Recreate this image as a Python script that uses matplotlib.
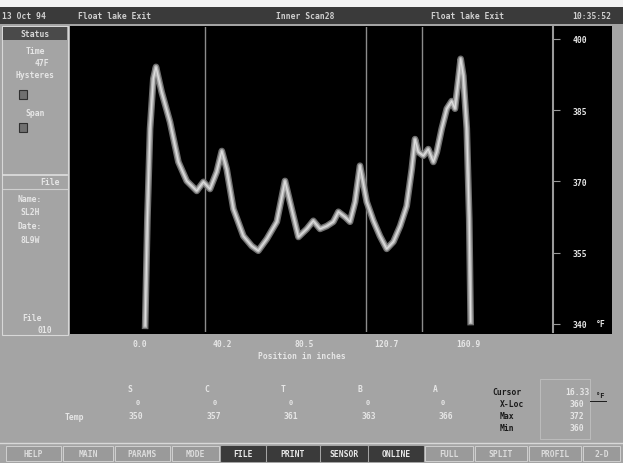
import matplotlib
matplotlib.use("Agg")
import matplotlib.pyplot as plt
from matplotlib.patches import Rectangle

# ---------------- data ----------------
position_in = [2.5, 3.6, 4.9, 6.5, 7.8, 10.6, 14.7, 18.8, 22.9, 27.8, 31.1, 34.3, 37.6, 40.1,
               42.5, 45.8, 50.7, 54.8, 58.0, 62.2, 67.1, 71.1, 74.4, 77.7, 81.8, 85.0, 88.3,
               91.6, 94.8, 97.3, 100.6, 103.0, 105.5, 107.9, 111.2, 114.5, 117.7, 121.0,
               124.3, 127.6, 130.8, 133.3, 134.9, 136.5, 139.0, 141.4, 143.9, 145.6, 148.0,
               150.5, 152.9, 154.5, 156.2, 157.3, 158.6, 160.3, 161.5, 162.2]
temp_f = [339.6, 362.1, 381.1, 391.6, 394.1, 388.8, 382.5, 374.1, 370.1, 368.0, 369.9, 368.4,
          372.0, 376.4, 372.6, 364.2, 358.5, 356.4, 355.4, 357.9, 361.5, 370.1, 364.2, 358.3,
          360.0, 361.7, 360.0, 360.6, 361.5, 363.6, 362.5, 361.5, 365.7, 373.3, 365.7, 361.7,
          358.5, 355.8, 357.3, 360.6, 364.8, 372.6, 378.9, 376.2, 375.4, 376.8, 374.1, 376.2,
          381.1, 385.3, 386.9, 385.3, 391.6, 395.8, 392.2, 381.1, 362.1, 340.4]
sensor_positions = [31.9, 110.9, 138.3]
x_ticks = [0.0, 40.2, 80.5, 120.7, 160.9]
x_tick_labels = ["0.0", "40.2", "80.5", "120.7", "160.9"]
y_ticks = [340, 355, 370, 385, 400]
sensor_names = ["S", "C", "T", "B", "A"]
sensor_temps = ["350", "357", "361", "363", "366"]
cursor_labels = ["Cursor", "X-Loc", "Max", "Min"]
cursor_values = ["16.33", "360", "372", "360"]
buttons = ["HELP", "MAIN", "PARAMS", "MODE", "FILE", "PRINT", "SENSOR", "ONLINE",
           "FULL", "SPLIT", "PROFIL", "2-D"]
title_items = ["13 Oct 94", "Float lake Exit", "Inner Scan28", "Float lake Exit", "10:35:52"]

# ---------------- figure ----------------
W, H = 623, 464
fig = plt.figure(figsize=(W / 100, H / 100), dpi=100)
fig.patch.set_facecolor("#a4a4a4")

FONT = dict(family="DejaVu Sans Mono", fontweight="bold", fontsize=5.8)
LIGHT = "#e6e6e6"

bg = fig.add_axes([0, 0, 1, 1], zorder=0)
bg.set_xlim(0, W)
bg.set_ylim(H, 0)
bg.axis("off")

def rect(x0, y0, x1, y1, fc, ec="none", lw=0.8, z=1):
    bg.add_patch(Rectangle((x0, y0), x1 - x0, y1 - y0, facecolor=fc, edgecolor=ec, lw=lw, zorder=z))

def txt(x, y, s, color=LIGHT, ha="center", **kw):
    d = dict(FONT)
    d.update(kw)
    bg.text(x, y, s, color=color, ha=ha, va="center", zorder=5, **d)

# top strip and title bar
rect(0, 0, W, 8, "#f2f2f2")
rect(0, 8, W, 25, "#3a3a3a")
title_x = [24, 115, 305, 468, 592]
for s, x in zip(title_items, title_x):
    txt(x, 16.5, s, color="#d0d0d0")

# black display area
rect(70, 27, 612, 335, "black")

# left panel
rect(2, 27, 68, 336, "#a4a4a4", ec="#d8d8d8", lw=0.8)
rect(3, 28, 67, 41, "#4a4a4a")
txt(35, 34.5, "Status", color="#d8d8d8")
txt(35, 52, "Time")
txt(42, 63, "47F")
txt(35, 76, "Hysteres")
rect(19, 91, 27, 100, "#707070", ec="#303030", lw=0.8)
txt(35, 114, "Span")
rect(19, 124, 27, 133, "#707070", ec="#303030", lw=0.8)
bg.plot([3, 67], [176, 176], color="#e0e0e0", lw=1.2, zorder=3)
txt(50, 183, "File")
bg.plot([3, 67], [190, 190], color="#d0d0d0", lw=0.8, zorder=3)
txt(30, 200, "Name:")
txt(30, 213, "SL2H")
txt(30, 227, "Date:")
txt(30, 241, "8L9W")
txt(32, 319, "File")
txt(45, 331, "010")

# bottom readouts
txt(302, 357, "Position in inches")
label_x = [130, 207, 283, 360, 435]
value_x = [136, 214, 291, 369, 446]
for nm, v, lx, vx in zip(sensor_names, sensor_temps, label_x, value_x):
    txt(lx, 390, nm)
    txt(lx + 8, 403, "0", fontsize=5)
    txt(vx, 417, v)
txt(74, 418, "Temp")

rect(540, 380, 590, 440, "none", ec="#c0c0c0", lw=0.6)
for i, (lab, val) in enumerate(zip(cursor_labels, cursor_values)):
    y = 393 + i * 12
    txt(492 if i == 0 else 500, y, lab, color="#1a1a1a", ha="left")
    txt(577, y, val)
txt(600, 396, "°F", color="#1a1a1a", fontsize=5)
bg.plot([590, 606], [402, 402], color="#1a1a1a", lw=0.7, zorder=4)

# button bar
rect(0, 444, W, 464, "#a4a4a4")
bg.plot([0, W], [444, 444], color="#d8d8d8", lw=1.0, zorder=3)
btn_edges = [5, 62, 114, 171, 220, 266, 320, 368, 424, 474, 528, 582, 621]
for i, name in enumerate(buttons):
    x0, x1 = btn_edges[i], btn_edges[i + 1]
    dark = name in ("FILE", "PRINT", "SENSOR", "ONLINE")
    rect(x0 + 1, 447, x1 - 1, 462, "#3a3a3a" if dark else "#9a9a9a",
         ec="#d0d0d0" if not dark else "#3a3a3a", lw=0.7)
    txt((x0 + x1) / 2, 455, name, color="#e8e8e8" if dark else "#dcdcdc")

# ---------------- main plot ----------------
def px_to_fig(x0, y0, x1, y1):
    return [x0 / W, 1 - y1 / H, (x1 - x0) / W, (y1 - y0) / H]

ax = fig.add_axes(px_to_fig(72, 28, 553, 333), zorder=2)
ax.set_facecolor("black")
ax.set_xlim(-33.4, 202.6)
ax.set_ylim(338.3, 402.5)

for xp in sensor_positions:
    ax.axvline(xp, color="#8c8c8c", lw=1.0)

ax.plot(position_in, temp_f, color="#6e6e6e", lw=4.8, solid_joinstyle="round")
ax.plot(position_in, temp_f, color="#b4b4b4", lw=2.8, solid_joinstyle="round")
ax.plot(position_in, temp_f, color="#dedede", lw=0.9, solid_joinstyle="round")

for side in ("top", "bottom", "left"):
    ax.spines[side].set_visible(False)
ax.spines["right"].set_color("#9a9a9a")
ax.spines["right"].set_linewidth(1.5)

ax.yaxis.tick_right()
ax.set_yticks(y_ticks)
ax.set_yticklabels([str(v) for v in y_ticks])
ax.tick_params(axis="y", colors="#9a9a9a", length=5, pad=9, labelcolor=LIGHT)
ax.set_xticks(x_ticks)
ax.set_xticklabels(x_tick_labels)
ax.tick_params(axis="x", length=0, pad=5, labelcolor=LIGHT)
for lbl in ax.get_xticklabels() + ax.get_yticklabels():
    lbl.set_family("DejaVu Sans Mono")
    lbl.set_fontweight("bold")
    lbl.set_fontsize(5.8)

bg.text(601, 325, "°F", color=LIGHT, ha="center", va="center", zorder=5, **FONT)

fig.savefig("out.png", dpi=100, facecolor=fig.get_facecolor())
